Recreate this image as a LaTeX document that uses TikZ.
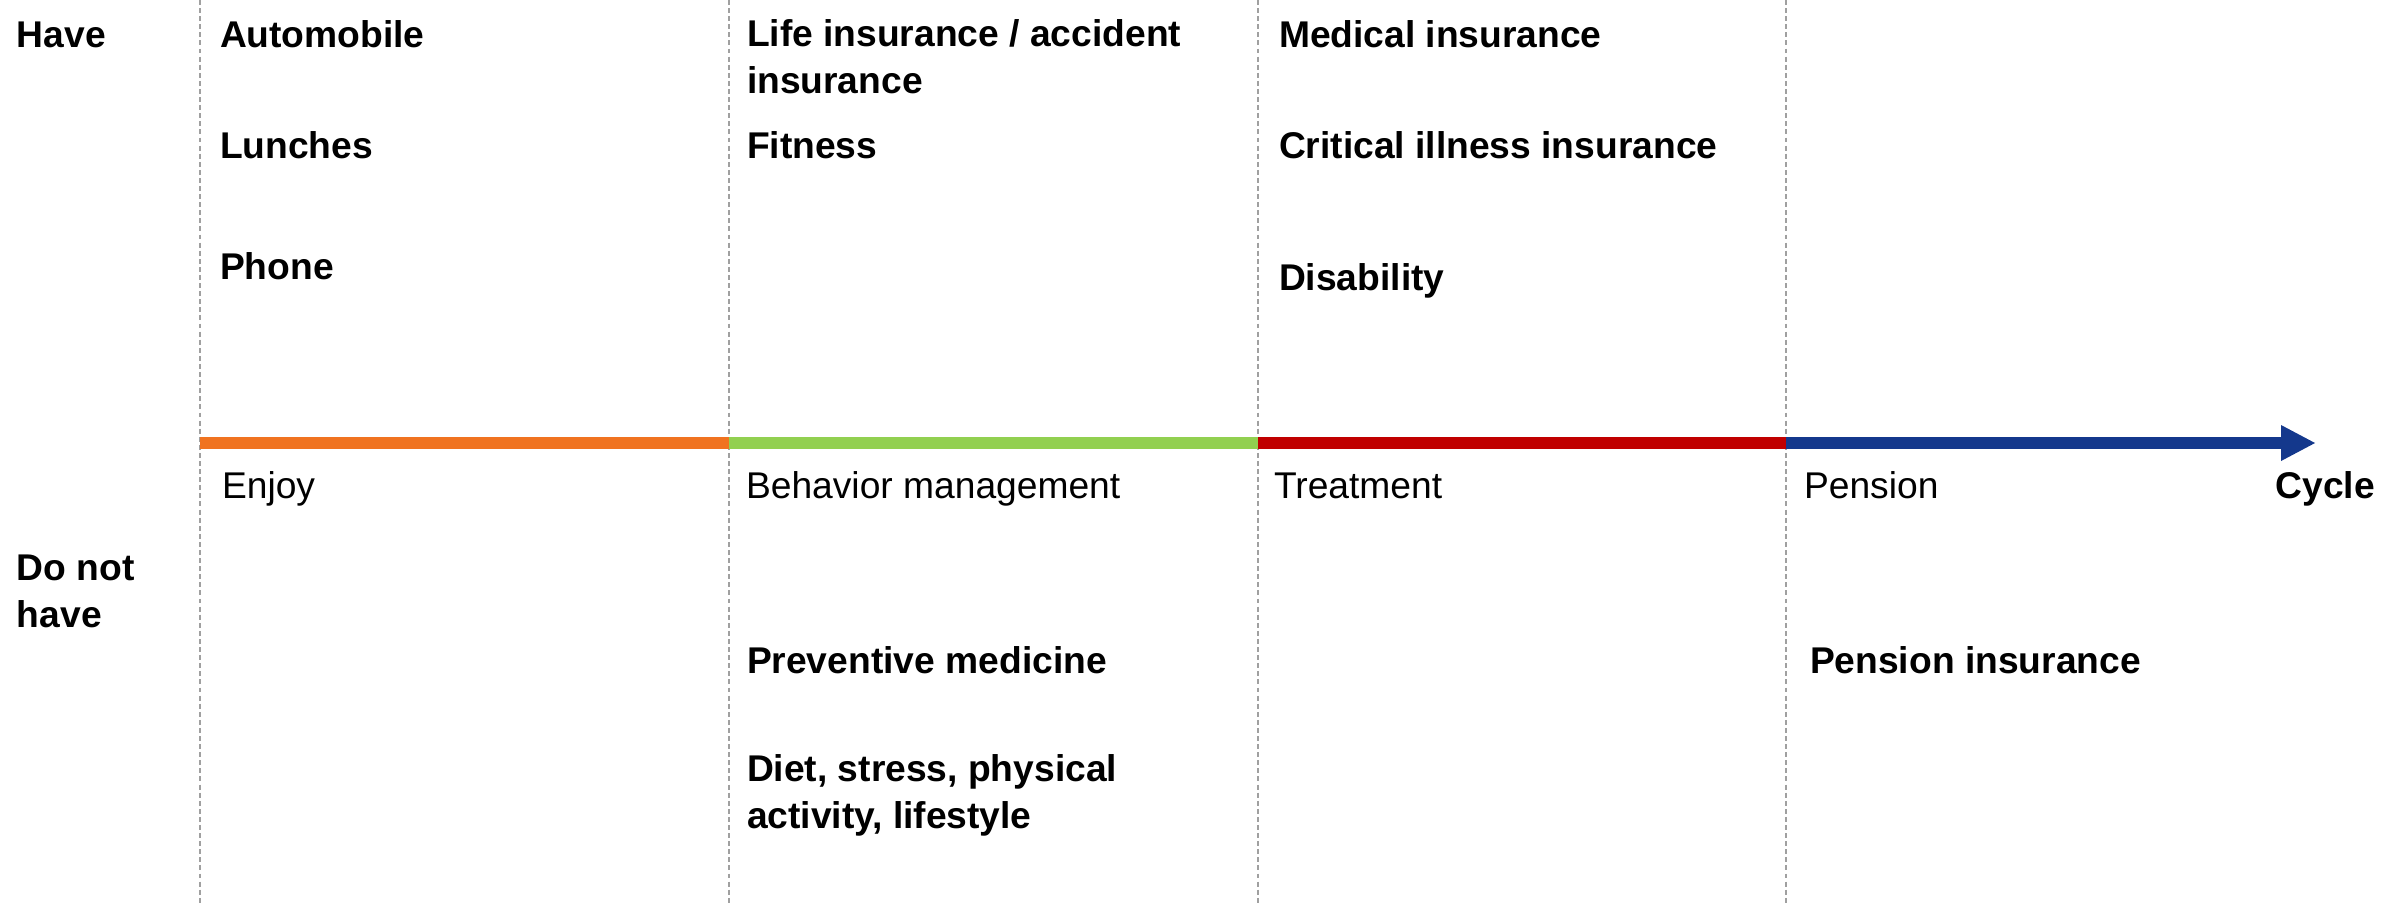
\documentclass[tikz,border=0pt]{standalone}
\usepackage{fontspec}
\setmainfont{Liberation Sans}
\definecolor{cOrange}{RGB}{240,115,32}
\definecolor{cGreen}{RGB}{146,208,80}
\definecolor{cRed}{RGB}{192,0,0}
\definecolor{cBlue}{RGB}{20,56,140}
\definecolor{cGrid}{RGB}{160,160,160}
\begin{document}
\begin{tikzpicture}[x=0.01cm,y=0.01cm,
  every node/.style={inner sep=0pt,outer sep=0pt,font=\fontsize{10.58pt}{13.1pt}\selectfont},
  item/.style={anchor=base west,font=\fontsize{10.58pt}{13.1pt}\selectfont\bfseries,align=left},
  phase/.style={anchor=base west},
  grid/.style={draw=cGrid,line width=0.35pt,dash pattern=on 1.4pt off 0.9pt},
  barseg/.style={line width=3.4pt}]
\useasboundingbox (0,0) rectangle (2401,-905);
% vertical dashed separators
\foreach \x/\n in {200/a,729/b,1258/c,1786/d}{
  \coordinate (top\n) at (\x,0);
  \coordinate (bot\n) at (\x,-905);
  \draw[grid] (top\n) -- (bot\n);
}
% timeline
\coordinate (p0) at (200,-443);
\coordinate (p1) at (729,-443);
\coordinate (p2) at (1258,-443);
\coordinate (p3) at (1786,-443);
\coordinate (p4) at (2281,-443);
\coordinate (tip) at (2315,-443);
\draw[barseg,cOrange] (p0) -- (p1);
\draw[barseg,cGreen] (p1) -- (p2);
\draw[barseg,cRed] (p2) -- (p3);
\draw[barseg,cBlue] (p3) -- ([xshift=0.5pt]p4);
\fill[cBlue] ([yshift=18*0.01cm]p4) -- (tip) -- ([yshift=-18*0.01cm]p4) -- cycle;
% row labels (multi-line nodes: base = last line)
\node[item] (have) at (17,-47) {Have};
\node[item] (donot) at (17,-627) {Do not\\have};
% have items
\node[item] (auto) at (220,-47) {Automobile};
\node[item] (lunch) at (220,-158) {Lunches};
\node[item] (phone) at (220,-279) {Phone};
\node[item] (life) at (747,-93) {Life insurance / accident\\insurance};
\node[item] (fit) at (747,-158) {Fitness};
\node[item] (med) at (1279,-47) {Medical insurance};
\node[item] (crit) at (1279,-158) {Critical illness insurance};
\node[item] (dis) at (1279,-290) {Disability};
% phases
\node[phase] (enjoy) at (222,-498) {Enjoy};
\node[phase] (behav) at (746,-498) {Behavior management};
\node[phase] (treat) at (1274,-498) {Treatment};
\node[phase] (pens) at (1804,-498) {Pension};
\node[anchor=base east,font=\fontsize{10.58pt}{13.1pt}\selectfont\bfseries] (cycle) at (2375,-498) {Cycle};
% do-not-have items
\node[item] (prev) at (747,-673) {Preventive medicine};
\node[item] (diet) at (747,-828) {Diet, stress, physical\\activity, lifestyle};
\node[item] (pins) at (1810,-673) {Pension insurance};
\end{tikzpicture}
\end{document}
